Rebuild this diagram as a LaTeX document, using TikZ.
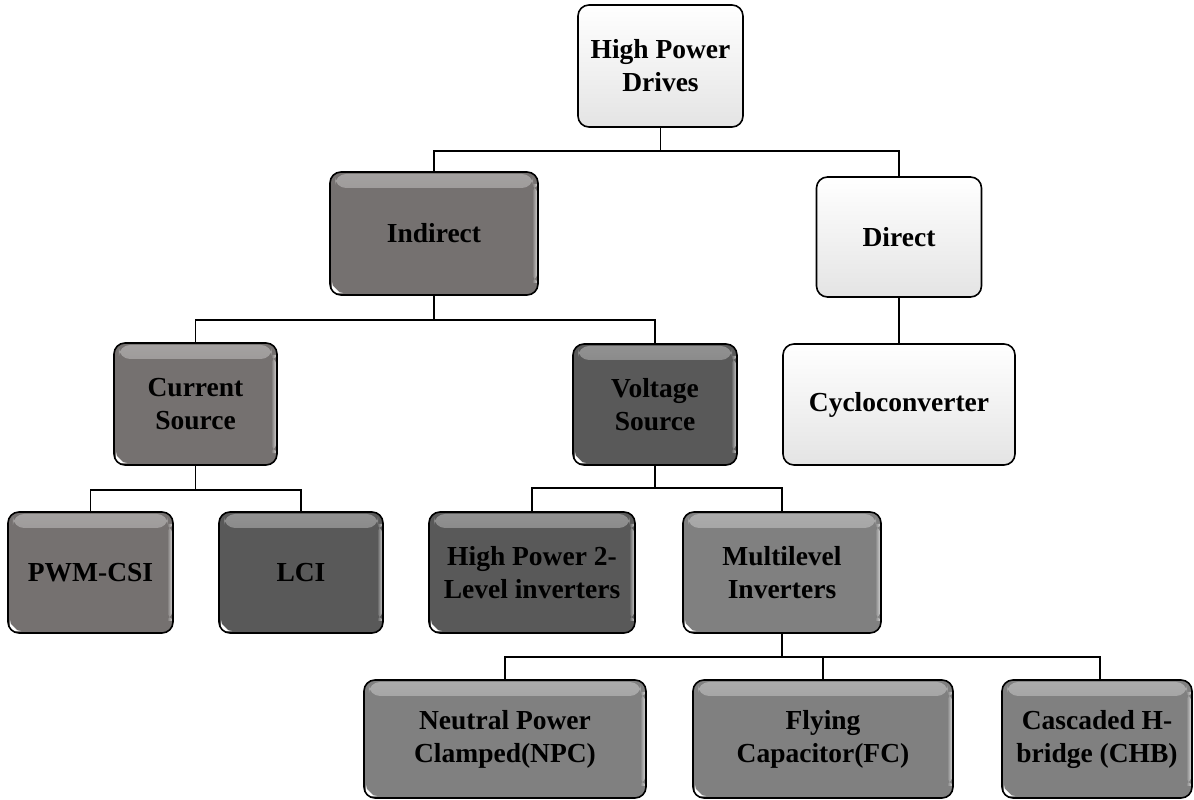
\documentclass[tikz,border=0pt]{standalone}
\usepackage{fontspec}
\setmainfont{Liberation Serif}
\usetikzlibrary{fadings}

\definecolor{warmgray}{HTML}{757170}
\definecolor{deepgray}{HTML}{595959}
\definecolor{midgray}{HTML}{808080}
\definecolor{lightbottom}{HTML}{E4E4E4}

\tikzfading[name=fadedown, top color=transparent!0, bottom color=transparent!100]
\tikzfading[name=fadeleft, left color=transparent!100, right color=transparent!0]

\tikzset{
  tile/.style={draw=black, line width=1.6pt, rounded corners=11pt, align=center,
    inner sep=0pt, text=black, font=\fontsize{27.5}{33}\selectfont\bfseries},
  shine/.style={path picture={
    % glossy band along the top edge
    \fill[white, opacity=0.35, path fading=fadedown]
      ([xshift=5pt,yshift=-2pt]path picture bounding box.north west) rectangle
      ([xshift=-5pt,yshift=-16pt]path picture bounding box.north east);
    % light rim on the right side
    \fill[white, opacity=0.7, path fading=fadeleft]
      ([xshift=-6pt,yshift=-12pt]path picture bounding box.north east) rectangle
      ([xshift=-0.5pt,yshift=12pt]path picture bounding box.south east);
    % small highlight in the lower left corner
    \fill[white]
      ([xshift=2pt,yshift=2pt]path picture bounding box.south west) -- ++(8pt,0pt)
      -- ++(-8pt,8pt) -- cycle;
  }},
  darktile/.style={tile, fill=#1, shine},
  lighttile/.style={tile, top color=white, middle color=white, bottom color=lightbottom},
  link/.style={draw=black, line width=1.7pt},
}

\begin{document}
\begin{tikzpicture}[x=1pt, y=-1pt]
  \useasboundingbox (0,0) rectangle (1194,800);

  % boxes
  \node[lighttile, minimum width=165pt, minimum height=122pt] (hpd) at (660.5,66) {High Power\\Drives};
  \node[darktile=warmgray, minimum width=208pt, minimum height=123pt] (ind) at (434,233.5) {Indirect};
  \node[lighttile, minimum width=165pt, minimum height=120pt] (dir) at (899,237) {Direct};
  \node[lighttile, minimum width=232pt, minimum height=121pt] (cyc) at (899,404.5) {Cycloconverter};
  \node[darktile=warmgray, minimum width=163pt, minimum height=122pt] (cs) at (195.5,404) {Current\\Source};
  \node[darktile=deepgray, minimum width=164pt, minimum height=121pt] (vs) at (655,404.5) {Voltage\\Source};
  \node[darktile=warmgray, minimum width=165pt, minimum height=121pt] (pwm) at (90.5,572.5) {PWM-CSI};
  \node[darktile=deepgray, minimum width=164pt, minimum height=121pt] (lci) at (301,572.5) {LCI};
  \node[darktile=deepgray, minimum width=206pt, minimum height=121pt] (hp2) at (532,572.5) {High Power 2-\\Level inverters};
  \node[darktile=midgray, minimum width=198pt, minimum height=121pt] (mli) at (782,572.5) {Multilevel\\Inverters};
  \node[darktile=midgray, minimum width=282pt, minimum height=118pt] (npc) at (505,739) {Neutral Power\\Clamped(NPC)};
  \node[darktile=midgray, minimum width=260pt, minimum height=118pt] (fc) at (823,739) {Flying\\Capacitor(FC)};
  \node[darktile=midgray, minimum width=190pt, minimum height=118pt] (chb) at (1097,739) {Cascaded H-\\bridge (CHB)};

  % branching points of the tree
  \coordinate (j1) at (660.5,151);
  \coordinate (j2) at (434,320);
  \coordinate (j3) at (195.5,490);
  \coordinate (j4) at (655,488);
  \coordinate (j5) at (782,657);

  % connectors
  \draw[link] (hpd.south) -- (j1) -| (ind.north);
  \draw[link] (j1) -| (dir.north);
  \draw[link] (dir.south) -- (cyc.north);
  \draw[link] (ind.south) -- (j2) -| (cs.north);
  \draw[link] (j2) -| (vs.north);
  \draw[link] (cs.south) -- (j3) -| (pwm.north);
  \draw[link] (j3) -| (lci.north);
  \draw[link] (vs.south) -- (j4) -| (hp2.north);
  \draw[link] (j4) -| (mli.north);
  \draw[link] (mli.south) -- (j5) -| (npc.north);
  \draw[link] (j5) -| (fc.north);
  \draw[link] (j5) -| ([xshift=3pt]chb.north);
\end{tikzpicture}
\end{document}
